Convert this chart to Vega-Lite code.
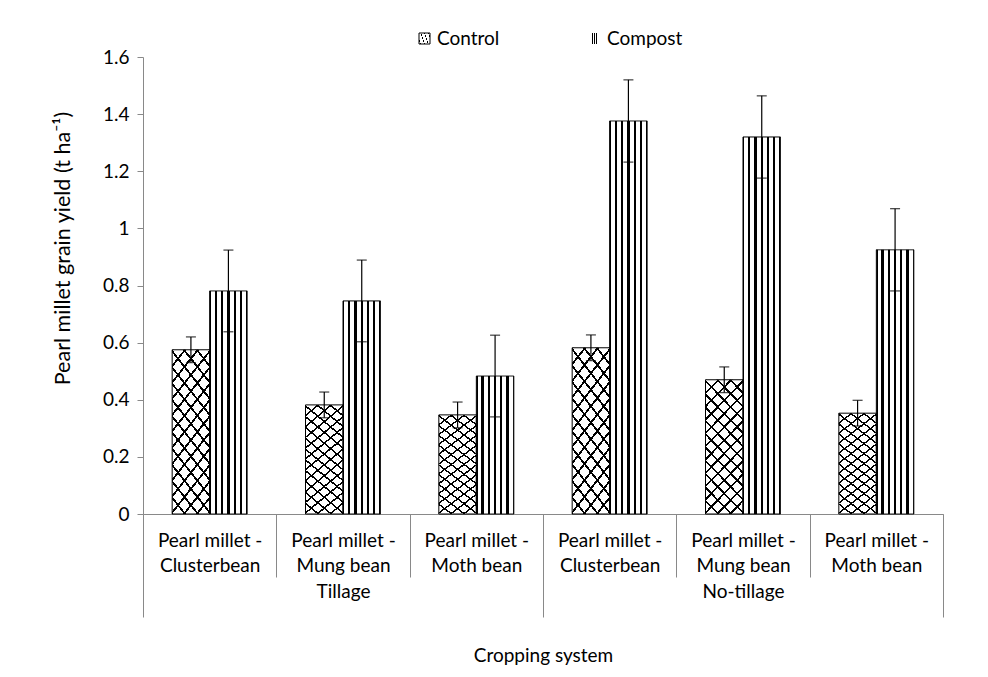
{
  "$schema": "https://vega.github.io/schema/vega-lite/v6.json",
  "width": 800,
  "height": 457,
  "autosize": {"type": "none"},
  "padding": {"left": 143, "top": 57, "right": 45, "bottom": 163},
  "background": "white",
  "config": {"view": {"stroke": null}, "font": "Lato"},
  "data": {"values": [
    {"cat": "Tillage|Pearl millet -|Clusterbean", "tillage": "Tillage", "treatment": "Control", "value": 0.575, "lo": 0.53, "hi": 0.62},
    {"cat": "Tillage|Pearl millet -|Mung bean", "tillage": "Tillage", "treatment": "Control", "value": 0.382, "lo": 0.337, "hi": 0.427},
    {"cat": "Tillage|Pearl millet -|Moth bean", "tillage": "Tillage", "treatment": "Control", "value": 0.347, "lo": 0.302, "hi": 0.392},
    {"cat": "No-tillage|Pearl millet -|Clusterbean", "tillage": "No-tillage", "treatment": "Control", "value": 0.582, "lo": 0.537, "hi": 0.627},
    {"cat": "No-tillage|Pearl millet -|Mung bean", "tillage": "No-tillage", "treatment": "Control", "value": 0.47, "lo": 0.425, "hi": 0.515},
    {"cat": "No-tillage|Pearl millet -|Moth bean", "tillage": "No-tillage", "treatment": "Control", "value": 0.353, "lo": 0.308, "hi": 0.398},
    {"cat": "Tillage|Pearl millet -|Clusterbean", "tillage": "Tillage", "treatment": "Compost", "value": 0.781, "lo": 0.638, "hi": 0.924},
    {"cat": "Tillage|Pearl millet -|Mung bean", "tillage": "Tillage", "treatment": "Compost", "value": 0.746, "lo": 0.603, "hi": 0.889},
    {"cat": "Tillage|Pearl millet -|Moth bean", "tillage": "Tillage", "treatment": "Compost", "value": 0.483, "lo": 0.34, "hi": 0.626},
    {"cat": "No-tillage|Pearl millet -|Clusterbean", "tillage": "No-tillage", "treatment": "Compost", "value": 1.376, "lo": 1.232, "hi": 1.52},
    {"cat": "No-tillage|Pearl millet -|Mung bean", "tillage": "No-tillage", "treatment": "Compost", "value": 1.32, "lo": 1.176, "hi": 1.464},
    {"cat": "No-tillage|Pearl millet -|Moth bean", "tillage": "No-tillage", "treatment": "Compost", "value": 0.925, "lo": 0.781, "hi": 1.069}
  ]},
  "layer": [
    {
      "encoding": {
        "x": {"field": "cat", "type": "nominal", "sort": null,
          "scale": {"domain": ["Tillage|Pearl millet -|Clusterbean", "Tillage|Pearl millet -|Mung bean", "Tillage|Pearl millet -|Moth bean", "No-tillage|Pearl millet -|Clusterbean", "No-tillage|Pearl millet -|Mung bean", "No-tillage|Pearl millet -|Moth bean"], "paddingInner": 0, "paddingOuter": 0},
          "axis": {"title": null, "ticks": true, "tickBand": "extent", "tickSize": 63, "tickWidth": 1, "tickColor": "#898989", "domainColor": "#898989", "labelPadding": -46, "labelExpr": "slice(split(datum.label, '|'), 1)", "labelFontSize": 19, "labelLineHeight": 25, "labelAngle": 0, "labelColor": "black", "labelFont": "Lato", "labelLimit": 0}},
        "xOffset": {"field": "treatment", "type": "nominal", "scale": {"domain": ["Control", "Compost"], "paddingInner": 0, "paddingOuter": 0.778}},
        "y": {"field": "value", "type": "quantitative", "scale": {"domain": [0, 1.6], "nice": false},
          "axis": {"title": "Pearl millet grain yield (t ha⁻¹)", "values": [0, 0.2, 0.4, 0.6, 0.8, 1, 1.2, 1.4, 1.6], "format": "~g", "grid": false, "tickSize": 6, "labelPadding": 8, "domainColor": "#898989", "tickColor": "#898989", "labelFontSize": 19, "labelColor": "black", "labelFont": "Lato", "titleFont": "Lato", "titleFontSize": 21.5, "titleFontWeight": "normal", "titleColor": "black", "titleX": -80, "titleY": 191, "titleAlign": "center", "titleBaseline": "middle", "titleAngle": 270}}
      },
      "layer": [
        {
          "transform": [{"filter": "datum.treatment === 'Control'"}],
          "mark": {"type": "bar", "strokeWidth": 1, "fill": {"gradient": "linear", "x1": 0, "y1": 0, "x2": 0.3428, "y2": 1.1895, "stops": [
            {"offset": 0, "color": "black"}, {"offset": 0.007, "color": "black"}, {"offset": 0.007, "color": "white"}, {"offset": 0.0699, "color": "white"},
            {"offset": 0.0699, "color": "black"}, {"offset": 0.0839, "color": "black"}, {"offset": 0.0839, "color": "white"}, {"offset": 0.1468, "color": "white"},
            {"offset": 0.1468, "color": "black"}, {"offset": 0.1608, "color": "black"}, {"offset": 0.1608, "color": "white"}, {"offset": 0.2238, "color": "white"},
            {"offset": 0.2238, "color": "black"}, {"offset": 0.2378, "color": "black"}, {"offset": 0.2378, "color": "white"}, {"offset": 0.3007, "color": "white"},
            {"offset": 0.3007, "color": "black"}, {"offset": 0.3147, "color": "black"}, {"offset": 0.3147, "color": "white"}, {"offset": 0.3776, "color": "white"},
            {"offset": 0.3776, "color": "black"}, {"offset": 0.3916, "color": "black"}, {"offset": 0.3916, "color": "white"}, {"offset": 0.4545, "color": "white"},
            {"offset": 0.4545, "color": "black"}, {"offset": 0.4685, "color": "black"}, {"offset": 0.4685, "color": "white"}, {"offset": 0.5315, "color": "white"},
            {"offset": 0.5315, "color": "black"}, {"offset": 0.5455, "color": "black"}, {"offset": 0.5455, "color": "white"}, {"offset": 0.6084, "color": "white"},
            {"offset": 0.6084, "color": "black"}, {"offset": 0.6224, "color": "black"}, {"offset": 0.6224, "color": "white"}, {"offset": 0.6853, "color": "white"},
            {"offset": 0.6853, "color": "black"}, {"offset": 0.6993, "color": "black"}, {"offset": 0.6993, "color": "white"}, {"offset": 0.7622, "color": "white"},
            {"offset": 0.7622, "color": "black"}, {"offset": 0.7762, "color": "black"}, {"offset": 0.7762, "color": "white"}, {"offset": 0.8392, "color": "white"},
            {"offset": 0.8392, "color": "black"}, {"offset": 0.8532, "color": "black"}, {"offset": 0.8532, "color": "white"}, {"offset": 0.9161, "color": "white"},
            {"offset": 0.9161, "color": "black"}, {"offset": 0.9301, "color": "black"}, {"offset": 0.9301, "color": "white"}, {"offset": 0.993, "color": "white"},
            {"offset": 0.993, "color": "black"}, {"offset": 1, "color": "black"}]}},
          "encoding": {
            "stroke": {"field": "treatment", "type": "nominal", "scale": {"domain": ["Control"], "range": ["black"]},
              "legend": {"title": null, "orient": "none", "legendX": 272, "legendY": -28, "direction": "horizontal", "symbolType": "square", "symbolSize": 121, "symbolStrokeWidth": 1, "labelFontSize": 19, "labelFont": "Lato", "labelColor": "black", "labelOffset": 3}}
          }
        },
        {
          "transform": [{"filter": "datum.treatment === 'Control'"}],
          "mark": {"type": "bar", "fill": {"gradient": "linear", "x1": 1, "y1": 0, "x2": 0.6572, "y2": 1.1895, "stops": [
            {"offset": 0, "color": "black"}, {"offset": 0.007, "color": "black"}, {"offset": 0.007, "color": "rgba(255,255,255,0)"}, {"offset": 0.0699, "color": "rgba(255,255,255,0)"},
            {"offset": 0.0699, "color": "black"}, {"offset": 0.0839, "color": "black"}, {"offset": 0.0839, "color": "rgba(255,255,255,0)"}, {"offset": 0.1468, "color": "rgba(255,255,255,0)"},
            {"offset": 0.1468, "color": "black"}, {"offset": 0.1608, "color": "black"}, {"offset": 0.1608, "color": "rgba(255,255,255,0)"}, {"offset": 0.2238, "color": "rgba(255,255,255,0)"},
            {"offset": 0.2238, "color": "black"}, {"offset": 0.2378, "color": "black"}, {"offset": 0.2378, "color": "rgba(255,255,255,0)"}, {"offset": 0.3007, "color": "rgba(255,255,255,0)"},
            {"offset": 0.3007, "color": "black"}, {"offset": 0.3147, "color": "black"}, {"offset": 0.3147, "color": "rgba(255,255,255,0)"}, {"offset": 0.3776, "color": "rgba(255,255,255,0)"},
            {"offset": 0.3776, "color": "black"}, {"offset": 0.3916, "color": "black"}, {"offset": 0.3916, "color": "rgba(255,255,255,0)"}, {"offset": 0.4545, "color": "rgba(255,255,255,0)"},
            {"offset": 0.4545, "color": "black"}, {"offset": 0.4685, "color": "black"}, {"offset": 0.4685, "color": "rgba(255,255,255,0)"}, {"offset": 0.5315, "color": "rgba(255,255,255,0)"},
            {"offset": 0.5315, "color": "black"}, {"offset": 0.5455, "color": "black"}, {"offset": 0.5455, "color": "rgba(255,255,255,0)"}, {"offset": 0.6084, "color": "rgba(255,255,255,0)"},
            {"offset": 0.6084, "color": "black"}, {"offset": 0.6224, "color": "black"}, {"offset": 0.6224, "color": "rgba(255,255,255,0)"}, {"offset": 0.6853, "color": "rgba(255,255,255,0)"},
            {"offset": 0.6853, "color": "black"}, {"offset": 0.6993, "color": "black"}, {"offset": 0.6993, "color": "rgba(255,255,255,0)"}, {"offset": 0.7622, "color": "rgba(255,255,255,0)"},
            {"offset": 0.7622, "color": "black"}, {"offset": 0.7762, "color": "black"}, {"offset": 0.7762, "color": "rgba(255,255,255,0)"}, {"offset": 0.8392, "color": "rgba(255,255,255,0)"},
            {"offset": 0.8392, "color": "black"}, {"offset": 0.8532, "color": "black"}, {"offset": 0.8532, "color": "rgba(255,255,255,0)"}, {"offset": 0.9161, "color": "rgba(255,255,255,0)"},
            {"offset": 0.9161, "color": "black"}, {"offset": 0.9301, "color": "black"}, {"offset": 0.9301, "color": "rgba(255,255,255,0)"}, {"offset": 0.993, "color": "rgba(255,255,255,0)"},
            {"offset": 0.993, "color": "black"}, {"offset": 1, "color": "black"}]}},
          "encoding": {}
        },
        {
          "transform": [{"filter": "datum.treatment === 'Compost'"}],
          "mark": {"type": "bar", "stroke": "black", "strokeWidth": 1, "fill": {"gradient": "linear", "x1": 0, "y1": 0, "x2": 1, "y2": 0, "stops": [
            {"offset": 0, "color": "black"}, {"offset": 0.035, "color": "black"}, {"offset": 0.035, "color": "white"}, {"offset": 0.1367, "color": "white"},
            {"offset": 0.1367, "color": "black"}, {"offset": 0.1967, "color": "black"}, {"offset": 0.1967, "color": "white"}, {"offset": 0.3033, "color": "white"},
            {"offset": 0.3033, "color": "black"}, {"offset": 0.3633, "color": "black"}, {"offset": 0.3633, "color": "white"}, {"offset": 0.47, "color": "white"},
            {"offset": 0.47, "color": "black"}, {"offset": 0.53, "color": "black"}, {"offset": 0.53, "color": "white"}, {"offset": 0.6367, "color": "white"},
            {"offset": 0.6367, "color": "black"}, {"offset": 0.6967, "color": "black"}, {"offset": 0.6967, "color": "white"}, {"offset": 0.8033, "color": "white"},
            {"offset": 0.8033, "color": "black"}, {"offset": 0.8633, "color": "black"}, {"offset": 0.8633, "color": "white"}, {"offset": 0.965, "color": "white"},
            {"offset": 0.965, "color": "black"}, {"offset": 1, "color": "black"}]}},
          "encoding": {
            "strokeDash": {"field": "treatment", "type": "nominal", "scale": {"domain": ["Compost"], "range": [[1, 0]]},
              "legend": {"title": null, "orient": "none", "legendX": 442, "legendY": -28, "direction": "horizontal", "symbolType": "square", "symbolSize": 121, "symbolStrokeWidth": 1, "symbolStrokeColor": "black", "labelFontSize": 19, "labelFont": "Lato", "labelColor": "black", "labelOffset": 3}}
          }
        },
        {
          "mark": {"type": "rule", "color": "black", "strokeWidth": 1.2},
          "encoding": {"y": {"field": "lo", "type": "quantitative"}, "y2": {"field": "hi"}}
        },
        {
          "mark": {"type": "tick", "color": "black", "thickness": 1.3, "size": 10, "orient": "horizontal"},
          "encoding": {"y": {"field": "hi", "type": "quantitative"}}
        },
        {
          "mark": {"type": "tick", "color": "black", "thickness": 1.3, "size": 10, "orient": "horizontal"},
          "encoding": {"y": {"field": "lo", "type": "quantitative"}}
        }
      ]
    },
    {
      "mark": {"type": "point", "opacity": 0},
      "encoding": {
        "x": {"field": "tillage", "type": "nominal", "sort": null,
          "scale": {"type": "band", "domain": ["Tillage", "No-tillage"], "paddingInner": 0, "paddingOuter": 0},
          "axis": {"orient": "bottom", "title": "Cropping system", "ticks": true, "tickBand": "extent", "tickSize": 103, "tickColor": "#898989", "domain": false, "labelPadding": -35, "labelFontSize": 19, "labelFont": "Lato", "labelColor": "black", "labelAngle": 0, "titleFont": "Lato", "titleFontSize": 19, "titleFontWeight": "normal", "titleColor": "black", "titleY": 141, "titleBaseline": "middle"}},
        "y": {"field": "value", "type": "quantitative"}
      }
    }
  ],
  "resolve": {"scale": {"x": "independent"}, "axis": {"x": "independent"}}
}
